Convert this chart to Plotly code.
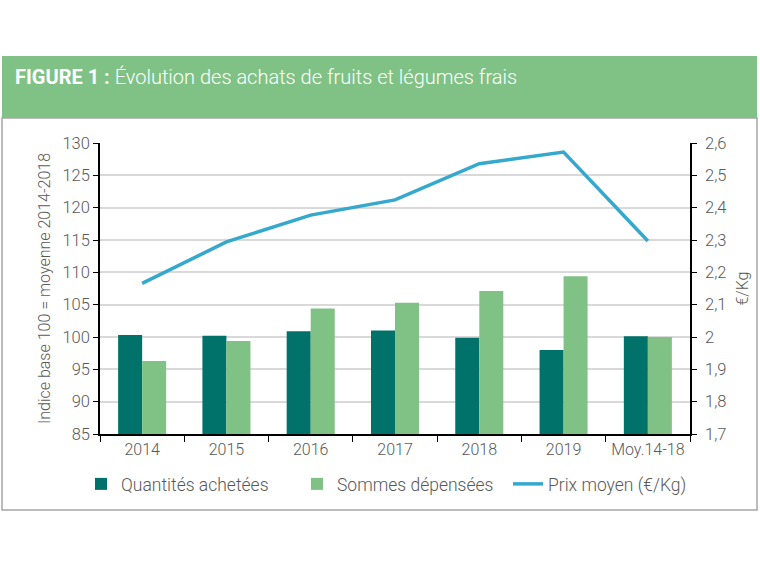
import plotly.graph_objects as go

categories = ["2014", "2015", "2016", "2017", "2018", "2019", "Moy.14-18"]
quantites = [100.3, 100.2, 100.9, 101.0, 99.9, 98.0, 100.1]
sommes = [96.3, 99.4, 104.4, 105.3, 107.1, 109.4, 100.0]
prix = [2.166, 2.294, 2.377, 2.424, 2.536, 2.572, 2.297]

left_ticks = list(range(85, 131, 5))
right_ticks = [1.7, 1.8, 1.9, 2.0, 2.1, 2.2, 2.3, 2.4, 2.5, 2.6]

W, H = 760, 570
L, R, T, B = 100, 70, 143, 136
pw, ph = W - L - R, H - T - B

def px(x):
    return (x - L) / pw

def py(y):
    return (H - B - y) / ph

font_txt = "Roboto, 'Open Sans', sans-serif"
gray = "#595959"

fig = go.Figure()
fig.add_trace(go.Bar(x=categories, y=quantites, name="Quantités achetées",
                     marker=dict(color="#00726A", line=dict(width=0)), legend="legend"))
fig.add_trace(go.Bar(x=categories, y=sommes, name="Sommes dépensées",
                     marker=dict(color="#80C285", line=dict(width=0)), legend="legend2"))
fig.add_trace(go.Scatter(x=categories, y=prix, name="Prix moyen (€/Kg)", yaxis="y2",
                         mode="lines", line=dict(color="#35A8CE", width=3.5),
                         legend="legend3"))

def leg(xpix):
    return dict(orientation="h", x=px(xpix), y=py(484), xanchor="left", yanchor="middle",
                font=dict(size=17.5, color=gray, weight=300), itemwidth=30,
                bgcolor="rgba(0,0,0,0)")

fig.update_layout(
    width=W, height=H,
    margin=dict(l=L, r=R, t=T, b=B, autoexpand=False),
    paper_bgcolor="white", plot_bgcolor="white",
    separators=", ",
    barmode="group", bargap=0.43, bargroupgap=0,
    font=dict(family=font_txt, color=gray, size=16, weight=300),
    showlegend=True,
    legend=leg(81),
    legend2=leg(297),
    legend3=leg(508),
    xaxis=dict(showline=True, linecolor="black", linewidth=1.5, ticks="outside",
               tickson="boundaries", ticklen=6, tickcolor="black",
               tickfont=dict(size=16, color=gray, weight=300), showgrid=False,
               automargin=False),
    yaxis=dict(range=[85, 130], tickvals=left_ticks, showline=True, linecolor="black",
               linewidth=1.5, ticks="outside", ticklen=5, tickcolor="black",
               gridcolor="#D9D9D9", gridwidth=1.5,
               tickfont=dict(size=16.5, color=gray, weight=300),
               title=dict(text="Indice base 100 = moyenne 2014-2018",
                          font=dict(size=16, color=gray, weight=300), standoff=8),
               zeroline=False, automargin=False),
    yaxis2=dict(range=[1.7, 2.6], tickvals=right_ticks, overlaying="y", side="right",
                showline=True, linecolor="black", linewidth=1.5, ticks="outside",
                ticklen=5, tickcolor="black", showgrid=False,
                tickfont=dict(size=16.5, color=gray, weight=300), ticklabelstandoff=5,
                title=dict(text="€/Kg", font=dict(size=16, color=gray, weight=300), standoff=11),
                zeroline=False, automargin=False),
    shapes=[
        dict(type="rect", xref="paper", yref="paper", x0=px(2), x1=px(757),
             y0=py(510), y1=py(118), line=dict(color="#A6A6A6", width=1.5),
             fillcolor="rgba(0,0,0,0)", layer="below"),
        dict(type="rect", xref="paper", yref="paper", x0=px(2), x1=px(757),
             y0=py(118), y1=py(56), line=dict(width=0), fillcolor="#80C285",
             layer="below"),
    ],
    annotations=[
        dict(xref="paper", yref="paper", x=px(13), y=py(77), xanchor="left",
             yanchor="middle", showarrow=False,
             text="<b>FIGURE 1 :</b> Évolution des achats de fruits et légumes frais",
             font=dict(size=20, color="white", family=font_txt, weight=300)),
    ],
)

fig.write_html("out.html", config={"displayModeBar": False},
               post_script="document.body.style.margin='0';")
